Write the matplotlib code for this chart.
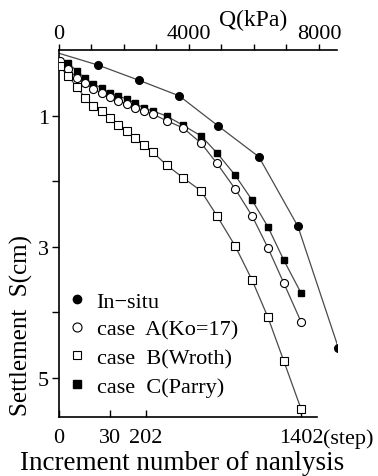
import matplotlib
matplotlib.use("Agg")
import matplotlib.pyplot as plt
from matplotlib.lines import Line2D

# ---------------- data ----------------
insitu_Q = [0, 1200, 2450, 3700, 4900, 6150, 7350, 8600]
insitu_S = [0.05, 0.23, 0.46, 0.70, 1.16, 1.63, 2.69, 4.55]

grid_Q = [30, 280, 550, 800, 1050, 1320, 1570, 1820, 2090, 2340, 2620,
          2890, 3320, 3820, 4370, 4860, 5420, 5940, 6430, 6920, 7450]

caseA_Q = grid_Q
caseA_S = [0.17, 0.29, 0.43, 0.50, 0.60, 0.66, 0.72, 0.78, 0.82, 0.89, 0.93,
           0.98, 1.08, 1.19, 1.42, 1.73, 2.12, 2.53, 3.02, 3.56, 4.15]

caseB_Q = grid_Q
caseB_S = [0.25, 0.40, 0.56, 0.73, 0.85, 0.93, 1.04, 1.15, 1.24, 1.34, 1.45,
           1.56, 1.76, 1.95, 2.15, 2.53, 2.99, 3.51, 4.08, 4.75, 5.48]

caseC_Q = grid_Q[1:]
caseC_S = [0.20, 0.32, 0.43, 0.52, 0.58, 0.66, 0.70, 0.75, 0.81, 0.89,
           0.93, 1.01, 1.15, 1.31, 1.57, 1.91, 2.29, 2.70, 3.21, 3.71]

Q_ticks = [0, 4000, 8000]
Q_minor = [1000, 2000, 3000, 5000, 6000, 7000]
S_ticks = [1, 3, 5]
S_minor = [2, 4]
step_labels = ["0", "30", "202", "1402"]
step_Q = [0, 1570, 2680, 7450]

labels = ["In\u2212situ", "case  A(Ko=17)", "case  B(Wroth)", "case  C(Parry)"]

# ---------------- figure ----------------
W, H = 378, 477
plt.rcParams["font.family"] = ["Liberation Serif", "DejaVu Serif"]
fig = plt.figure(figsize=(W / 100, H / 100), dpi=100)
fig.patch.set_facecolor("white")

L, R, T, B = 59, 337, 51, 418
ax = fig.add_axes([L / W, 1 - B / H, (R - L) / W, (B - T) / H])
ax.set_xlim(0, 8554)
ax.set_ylim(5.6, 0)

lc = "#4a4a4a"
lw = 0.9
ms = 5.5
ax.plot(insitu_Q, insitu_S, color=lc, lw=lw, zorder=2)
ax.plot(insitu_Q[1:], insitu_S[1:], "o", ms=ms, mfc="black", mec="black", zorder=3)
ax.plot(caseA_Q, caseA_S, color=lc, lw=lw, zorder=2)
ax.plot(caseC_Q, caseC_S, color=lc, lw=lw, zorder=2)
ax.plot(caseB_Q, caseB_S, color=lc, lw=lw, zorder=2)
ax.plot(caseC_Q, caseC_S, "s", ms=ms - 0.5, mfc="black", mec="black", zorder=3)
ax.plot(caseA_Q, caseA_S, "o", ms=ms + 0.3, mfc="white", mec="black", mew=0.8, zorder=4)
ax.plot(caseB_Q, caseB_S, "s", ms=ms, mfc="white", mec="black", mew=0.8, zorder=4)

# spines
for s in ["right", "top"]:
    ax.spines[s].set_visible(False)
ax.spines["left"].set_linewidth(1.2)
ax.spines["bottom"].set_linewidth(1.2)
ax.spines["bottom"].set_bounds(0, 7940)

# bottom: step axis
ax.set_xticks(step_Q, step_labels, fontsize=16)
ax.tick_params(axis="x", direction="in", length=5, width=1, pad=8)
ax.annotate("(step)", xy=(step_Q[-1], 0), xycoords=("data", "axes fraction"),
            xytext=(22, -11), textcoords="offset pixels", ha="left", va="top",
            fontsize=16)
ax.set_xlabel("Increment number of nanlysis", fontsize=19.5)
ax.xaxis.set_label_coords((182 - L) / (R - L), -(451 - B) / (B - T))

# left: settlement
ax.set_yticks(S_ticks, [str(v) for v in S_ticks], fontsize=16)
ax.set_yticks(S_minor, minor=True)
ax.tick_params(axis="y", which="both", direction="out", length=5, width=1, pad=2)
ax.set_ylabel("Settlement  S(cm)", fontsize=18)
ax.yaxis.set_label_coords((33 - L) / (R - L), (B - 326) / (B - T))

# top: Q axis
sec = ax.secondary_xaxis("top")
sec.set_xticks(Q_ticks, [str(v) for v in Q_ticks], fontsize=16)
sec.set_xticks(Q_minor, minor=True)
sec.tick_params(which="both", direction="out", length=4, width=1, pad=1)
sec.spines["top"].set_linewidth(1.2)
sec.set_xlabel("Q(kPa)", fontsize=17, labelpad=-1)
sec.xaxis.label.set_x((253 - L) / (R - L))

# legend
handles = [
    Line2D([], [], ls="none", marker="o", ms=6, mfc="black", mec="black"),
    Line2D([], [], ls="none", marker="o", ms=6.5, mfc="white", mec="black", mew=0.8),
    Line2D([], [], ls="none", marker="s", ms=6, mfc="white", mec="black", mew=0.8),
    Line2D([], [], ls="none", marker="s", ms=5.5, mfc="black", mec="black"),
]
leg = ax.legend(handles, labels, loc="upper left",
                bbox_to_anchor=((70 - L) / (R - L), (B - 292) / (B - T)),
                frameon=False, fontsize=16, handlelength=0.6, handletextpad=0.6,
                labelspacing=0.35, borderpad=0, borderaxespad=0)

fig.savefig("out.png", dpi=100)
